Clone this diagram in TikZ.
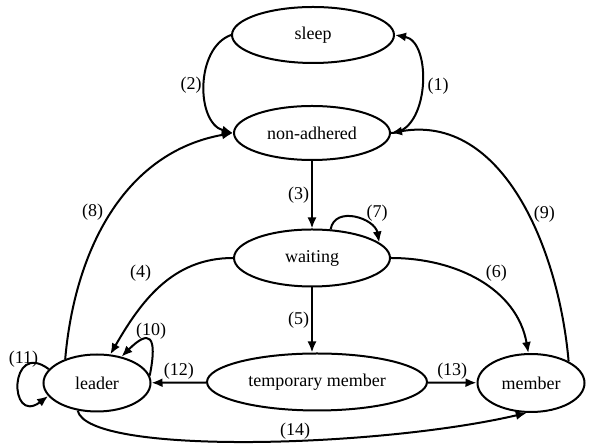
\documentclass[tikz,border=0pt]{standalone}
\usepackage{fontspec}
\setmainfont{Liberation Serif}
\usetikzlibrary{arrows.meta,positioning,shapes.geometric,calc}

\begin{document}
\begin{tikzpicture}[
  x=1pt,y=1pt,
  state/.style={ellipse,draw,line width=2pt,inner sep=0pt,
                font=\fontsize{18}{20}\selectfont},
  arr/.style={-{Latex[length=11pt,width=9pt]},line width=2pt},
  lbl/.style={font=\fontsize{18}{20}\selectfont,inner sep=2pt}
]
\useasboundingbox (0,0) rectangle (592,446);
% states
\node[state,minimum width=162,minimum height=56] (sleep) at (313,411) {sleep};
\node[state,minimum width=156,minimum height=54] (nonadh) at (312,313) {non-adhered};
\node[state,minimum width=156,minimum height=57] (waiting) at (312,188) {waiting};
\node[state,minimum width=220,minimum height=57] (temp) at (317,64) {temporary member};
\node[state,minimum width=107,minimum height=57] (leader) at (97,63) {leader};
\node[state,minimum width=107,minimum height=58] (member) at (531,63) {member};
% transitions
\draw[arr] (nonadh.east) to[out=0,in=-10] node[lbl,pos=0.5,right,xshift=3pt]{(1)} (sleep.east);
\draw[arr] (sleep.west) to[out=200,in=165] node[lbl,pos=0.5,left]{(2)} (nonadh.west);
\draw[arr] (nonadh) -- node[lbl,left]{(3)} (waiting);
\draw[arr] (waiting.west) to[out=180,in=60] node[lbl,pos=0.45,above left,xshift=-12pt,yshift=-3pt]{(4)} (leader.65);
\draw[arr] (waiting.south) -- node[lbl,left]{(5)} (waiting.south |- temp.north);
\draw[arr] (waiting.east) to[out=0,in=100] node[lbl,pos=0.5,above right,xshift=3pt,yshift=-3pt]{(6)} (member.95);
\draw[arr] (waiting.57) to[out=80,in=100,looseness=1.25] node[lbl,pos=0.7,above right,xshift=-4pt]{(7)} (waiting.13);
\draw[arr] (leader.143) to[out=85,in=190] node[lbl,pos=0.5,left,xshift=-6pt]{(8)} (nonadh.west);
\draw[arr] (member.30) to[out=95,in=10] node[lbl,pos=0.44,right,xshift=3pt]{(9)} (nonadh.east);
\draw[arr] (leader.8) .. controls +(8,40) and +(28,28) .. node[lbl,pos=0.5,above,xshift=2pt,yshift=-2pt]{(10)} (leader.47);
\draw[arr] (leader.164) .. controls +(-40,30) and +(-40,-30) .. node[lbl,pos=0.3,above,yshift=-3pt]{(11)} (leader.195);
\draw[arr] (temp) -- node[lbl,above]{(12)} (leader);
\draw[arr] (temp) -- node[lbl,above]{(13)} (member);
\draw[arr] (leader.235) .. controls +(10,-45) and +(-150,-35) .. node[lbl,pos=0.58,above,inner sep=0pt]{(14)} (member.262);
\end{tikzpicture}
\end{document}
